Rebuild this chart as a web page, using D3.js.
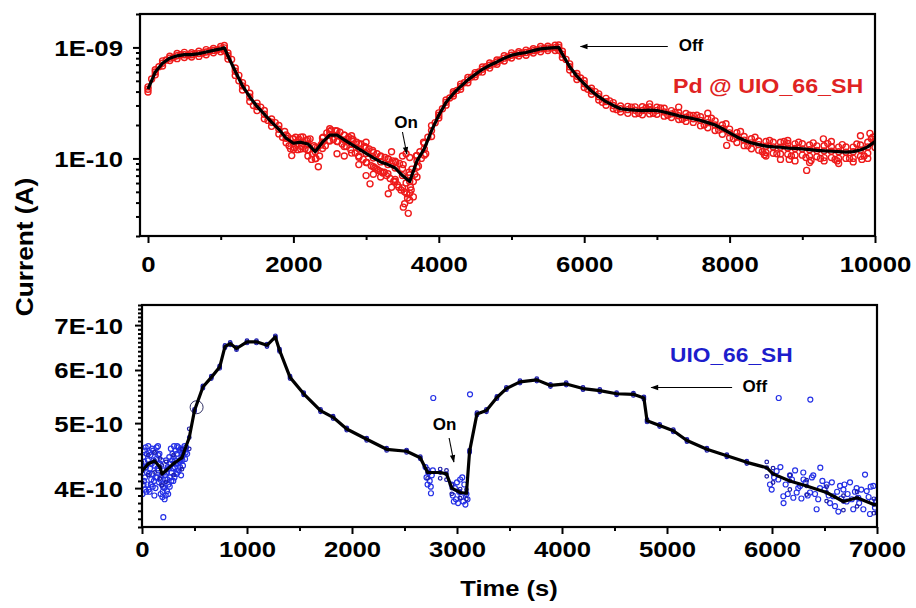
<!DOCTYPE html>
<html>
<head>
<meta charset="utf-8">
<script src="https://cdn.jsdelivr.net/npm/d3@7"></script>
<style>
  body { margin: 0; background: #fff; }
  svg text { font-family: "Liberation Sans", Arial, sans-serif; font-weight: bold; fill: #000; }
</style>
</head>
<body>
<svg id="chart" width="916" height="608"></svg>
<script>
// Currents are stored in units of 1e-10 A
const UNIT = 1e-10;

// ---------- Pd @ UIO_66_SH (upper panel) ----------
const topTime = [0,100,200,300,400,500,600,700,800,900,1000,1050,1100,
  1200,1300,1400,1500,1600,1700,1800,1900,2000,2100,2200,2300,2400,2500,2600,2700,
  2800,2900,3000,3100,3200,3300,3400,3500,3600,3700,3800,3900,4000,4100,4200,4300,
  4400,4500,4600,4700,4800,4900,5000,5100,5200,5300,5400,5500,5600,5650,5700,5800,
  5900,6000,6100,6200,6300,6400,6500,6600,6700,6800,6900,7000,7100,7200,7300,7400,
  7500,7600,7700,7800,7900,8000,8100,8200,8300,8400,8500,8600,8700,8800,8900,9000,
  9100,9200,9300,9400,9500,9600,9700,9800,9900,10000];
const topCurrent = [4.2,6.0,7.2,8.0,8.4,8.6,8.6,8.8,9.1,9.4,9.7,9.9,8.4,
  6.1,4.5,3.58,2.94,2.5,2.12,1.83,1.52,1.37,1.40,1.35,1.15,1.40,1.62,1.62,1.47,
  1.34,1.22,1.11,1.01,0.93,0.88,0.82,0.70,0.62,0.95,1.22,1.78,2.45,3.2,3.83,4.45,
  5.1,5.7,6.35,6.9,7.4,8.0,8.5,8.8,9.0,9.35,9.7,9.85,9.95,10.0,8.7,6.7,
  5.5,4.7,4.05,3.6,3.25,3.0,2.8,2.75,2.72,2.7,2.72,2.7,2.62,2.52,2.42,2.35,
  2.28,2.2,2.1,2.0,1.85,1.7,1.56,1.46,1.38,1.33,1.29,1.27,1.26,1.24,1.23,1.22,
  1.2,1.18,1.17,1.16,1.15,1.14,1.15,1.19,1.27,1.42];
// spread of the raw readings above / below the smoothed trace (ratio)
const topSpreadUp = [1.05,1.05,1.05,1.04,1.05,1.05,1.04,1.05,1.05,1.04,1.05,1.05,1.06,
  1.07,1.07,1.08,1.07,1.08,1.07,1.08,1.07,1.10,1.11,1.10,1.10,1.09,1.08,1.09,1.10,
  1.12,1.11,1.13,1.12,1.12,1.13,1.15,1.16,1.15,1.12,1.12,1.11,1.05,1.05,1.04,1.05,
  1.05,1.04,1.05,1.05,1.04,1.05,1.05,1.04,1.05,1.04,1.05,1.04,1.05,1.05,1.06,1.06,
  1.06,1.07,1.06,1.06,1.07,1.06,1.06,1.07,1.07,1.08,1.07,1.07,1.08,1.07,1.07,1.08,
  1.07,1.08,1.08,1.09,1.08,1.08,1.09,1.08,1.09,1.08,1.10,1.10,1.11,1.10,1.10,1.11,
  1.10,1.10,1.11,1.10,1.10,1.11,1.10,1.11,1.10,1.10];
const topSpreadDown = [1.06,1.06,1.06,1.05,1.06,1.06,1.05,1.06,1.06,1.05,1.06,1.06,1.07,
  1.09,1.09,1.10,1.09,1.10,1.09,1.10,1.10,1.14,1.15,1.14,1.16,1.14,1.13,1.14,1.15,
  1.20,1.19,1.21,1.20,1.22,1.21,1.27,1.29,1.28,1.14,1.14,1.13,1.06,1.06,1.05,1.06,
  1.06,1.05,1.06,1.06,1.05,1.06,1.06,1.05,1.06,1.05,1.06,1.05,1.06,1.06,1.07,1.07,
  1.07,1.08,1.07,1.07,1.08,1.07,1.07,1.08,1.08,1.09,1.08,1.08,1.09,1.08,1.08,1.09,
  1.08,1.12,1.11,1.12,1.12,1.11,1.12,1.12,1.13,1.12,1.14,1.14,1.15,1.14,1.15,1.14,
  1.15,1.14,1.15,1.14,1.15,1.14,1.15,1.14,1.14,1.13];
// individual readings between and around the band: [time s, current ×1e-10 A]
const topScatter = [
  [50,5.2],[150,6.7],[250,7.7],[350,8.1],[450,8.6],[550,8.5],[650,8.8],[750,8.9],[850,9.3],[950,9.5],
  [1150,7.8],[1250,5.0],[1250,5.6],[1350,4.3],[1450,3.0],[1550,2.9],[1650,2.2],[1750,2.1],[1850,1.55],[1880,1.75],
  [1920,1.58],[1940,1.30],[1960,1.22],[1977,1.06],[1990,1.50],[2010,1.25],[2030,1.55],[2060,1.20],[2080,1.48],
  [2110,1.28],[2130,1.56],[2160,1.22],[2180,1.45],[2200,1.05],[2210,1.20],[2230,1.50],[2250,0.98],[2260,1.10],
  [2280,1.30],[2310,1.00],[2330,1.25],[2343,0.84],[2360,1.05],[2380,1.32],[2410,1.55],[2440,1.30],[2460,1.70],
  [2490,1.45],[2500,1.85],[2520,1.80],[2550,1.48],[2580,1.78],[2600,1.10],[2610,1.42],[2640,1.72],[2670,1.35],
  [2700,1.62],[2700,1.05],[2730,1.28],[2760,1.55],[2790,1.20],[2800,1.60],[2820,1.48],[2850,1.12],[2870,1.40],
  [2900,1.05],[2900,0.88],[2930,1.35],[2960,0.98],[2980,1.28],[3000,0.70],[3000,1.40],[3010,0.92],[3040,1.22],
  [3054,0.59],[3070,0.86],[3090,1.18],[3100,0.72],[3120,0.82],[3150,1.10],[3150,0.80],[3170,0.78],[3200,1.05],
  [3200,0.68],[3230,0.74],[3250,0.75],[3260,1.02],[3280,0.70],[3305,0.48],[3310,0.98],[3330,0.66],[3350,0.55],
  [3350,1.15],[3360,0.95],[3380,0.62],[3400,0.62],[3410,0.92],[3430,0.58],[3450,0.55],[3460,0.90],[3480,0.52],
  [3500,1.05],[3510,0.88],[3512,0.364],[3530,0.50],[3530,0.39],[3550,0.60],[3550,1.10],[3560,0.48],[3570,0.44],
  [3580,0.32],[3590,0.75],[3600,0.42],[3600,1.02],[3610,0.55],[3620,0.52],[3630,0.80],[3650,0.62],[3650,0.45],
  [3670,0.72],[3690,1.05],[3700,0.68],[3720,0.85],[3740,1.15],[3760,1.00],[3790,1.40],[3820,1.10],[3850,1.55],
  [3950,2.1],[4050,2.8],[4150,3.5],[4250,4.1],[4350,4.8],[4450,5.4],[4550,6.0],[4650,6.7],[4750,7.1],[4850,7.7],
  [4950,8.2],[5050,8.6],[5150,8.9],[5250,9.2],[5350,9.5],[5450,9.8],[5550,9.9],
  [5750,7.8],[5850,5.8],[5950,5.3],[6050,4.2],[6150,4.0],[6250,3.2],[6350,3.3],[6450,2.75],
  [6650,2.9],[6750,2.55],[6850,2.85],[6900,3.10],[6950,2.55],[7050,2.85],[7150,2.45],[7250,2.6],[7300,2.9],
  [7350,2.25],[7450,2.45],[7550,2.45],[7650,2.0],[7700,2.55],[7750,2.3],[7850,1.8],[7950,2.05],[7960,1.31],
  [8050,1.5],[8150,1.75],[8250,1.3],[8350,1.55],[8450,1.15],[8480,1.08],[8500,1.05],[8550,1.45],[8650,1.1],
  [8700,0.98],[8750,1.42],[8800,1.45],[8820,0.98],[8850,1.05],[8900,0.95],[8950,1.40],[9050,1.02],[9060,0.78],
  [9100,0.92],[9120,0.96],[9150,1.38],[9250,1.0],[9290,1.50],[9300,0.95],[9350,1.36],[9400,1.42],[9450,0.98],
  [9480,0.95],[9500,0.90],[9550,1.33],[9650,1.0],[9700,0.93],[9750,1.35],[9800,1.60],[9820,0.98],[9850,1.05],
  [9900,1.00],[9930,1.68],[9950,1.5],[9970,1.55]
];
const topXTicks = [0,2000,4000,6000,8000,10000];
const topXMinor = [1000,3000,5000,7000,9000];
const topYTicks = [1e-10,1e-9];
const topYTickLabels = ["1E-10","1E-09"];

// ---------- UIO_66_SH (lower panel) ----------
const botTime = [0,60,120,170,190,230,300,380,450,500,580,660,740,790,840,900,1000,1090,1190,1270,
  1310,1410,1540,1700,1820,1950,2140,2330,2520,2650,2720,2840,2900,2950,3030,3090,3120,3190,3280,3380,
  3470,3600,3760,3890,4040,4200,4360,4520,4680,4780,4810,4930,5060,5190,5380,5570,5760,5950,6010,6170,
  6330,6520,6680,6810,6970,7000];
const botCurrent = [4.24,4.35,4.39,4.30,4.20,4.25,4.35,4.44,4.76,5.22,5.66,5.85,6.06,6.50,6.57,6.46,6.61,6.61,6.53,6.72,
  6.42,5.85,5.53,5.22,5.10,4.90,4.73,4.57,4.54,4.44,4.22,4.22,4.20,4.00,3.94,3.93,4.54,5.16,5.22,5.46,
  5.63,5.76,5.80,5.69,5.72,5.63,5.59,5.53,5.52,5.45,5.04,4.96,4.87,4.71,4.57,4.47,4.37,4.29,4.20,4.10,
  4.03,3.94,3.82,3.87,3.78,3.78];
const botSpreadUp = [1.03,1.03,1.03,1.03,1.03,1.03,1.03,1.03,1.03,
  1.004,1.004,1.004,1.004,1.004,1.004,1.004,1.004,1.004,1.004,1.004,1.004,1.004,1.004,1.004,1.004,1.004,1.004,1.004,1.004,1.004,
  1.012,1.012,1.012,1.012,1.012,1.012,
  1.004,1.004,1.004,1.004,1.004,1.004,1.004,1.004,1.004,1.004,1.004,1.004,1.004,1.004,1.004,1.004,1.004,1.004,1.004,1.004,1.004,
  1.02,1.02,1.02,1.02,1.02,1.02,1.02,1.02,1.02];
const botSpreadDown = [1.04,1.04,1.04,1.04,1.04,1.04,1.04,1.04,1.04,
  1.004,1.004,1.004,1.004,1.004,1.004,1.004,1.004,1.004,1.004,1.004,1.004,1.004,1.004,1.004,1.004,1.004,1.004,1.004,1.004,1.004,
  1.02,1.02,1.02,1.02,1.02,1.02,
  1.004,1.004,1.004,1.004,1.004,1.004,1.004,1.004,1.004,1.004,1.004,1.004,1.004,1.004,1.004,1.004,1.004,1.004,1.004,1.004,1.004,
  1.03,1.03,1.03,1.03,1.03,1.03,1.03,1.03,1.03];
// noisy readings at the start, around the switch-on and at the tail: [time s, current ×1e-10 A]
const botScatter = [
  [5,3.92],[8,4.30],[12,4.45],[15,4.05],[18,4.10],[22,4.38],[25,4.55],[28,4.15],[30,3.98],[35,4.60],[38,4.30],
  [42,3.95],[45,4.50],[48,4.22],[52,4.05],[56,4.40],[60,4.62],[63,3.98],[66,4.20],[70,4.52],[72,3.95],[76,4.28],
  [80,4.48],[84,4.05],[88,4.12],[92,4.35],[95,4.58],[98,4.20],[102,4.02],[106,4.55],[110,4.40],[114,4.10],
  [118,3.90],[121,4.32],[125,4.52],[128,4.00],[132,4.15],[136,4.42],[140,4.60],[144,4.15],[148,4.28],[152,4.62],
  [155,4.48],[158,4.25],[162,4.08],[166,4.50],[170,4.35],[174,4.12],[178,3.92],[182,4.40],[186,4.18],[190,4.05],
  [194,3.88],[197,3.95],[200,4.02],[203,3.62],[208,4.25],[212,4.00],[215,3.85],[218,4.18],[222,4.12],[226,3.90],
  [230,4.40],[234,4.22],[238,3.96],[242,4.12],[245,4.30],[249,3.92],[252,4.05],[256,4.28],[260,4.45],[264,4.02],
  [268,4.15],[272,4.35],[275,4.58],[279,4.10],[282,4.22],[286,4.40],[290,4.50],[294,4.28],[298,4.10],[302,4.45],
  [305,4.62],[309,4.15],[312,4.30],[316,4.40],[320,4.55],[324,4.35],[328,4.20],[332,4.50],[335,4.62],[338,4.22],
  [342,4.35],[346,4.60],[350,4.25],[354,4.38],[358,4.55],[362,4.30],[365,4.40],[369,4.58],[372,4.18],[376,4.45],
  [380,4.50],[385,4.40],[390,4.32],[395,4.48],[400,4.55],[405,4.62],[410,4.42],[415,4.52],[420,4.60],[430,4.50],
  [2700,4.30],[2710,4.15],[2720,4.05],[2730,4.22],[2740,4.10],[2750,4.02],[2752,3.93],[2760,4.18],[2770,4.25],
  [2774,5.45],[2950,4.05],[2960,3.90],[2970,3.82],[2980,4.00],[2990,3.85],[3000,4.08],[3010,3.80],[3020,3.95],
  [3030,4.12],[3040,3.88],[3050,4.15],[3060,3.82],[3070,4.05],[3080,3.78],[3090,3.92],[3100,3.85],[3124,5.52],
  [5981,4.05],[5997,3.98],[6020,4.15],[6044,4.24],[6060,4.12],[6064,5.45],[6080,4.30],[6108,3.89],[6110,3.80],
  [6130,4.05],[6150,3.92],[6171,4.18],[6190,4.12],[6203,3.87],[6220,4.25],[6235,3.94],[6250,4.00],[6267,4.03],
  [6280,3.86],[6298,4.22],[6300,4.12],[6320,4.08],[6340,3.90],[6362,3.94],[6365,5.42],[6380,4.15],[6393,4.18],
  [6410,3.92],[6425,3.72],[6440,3.85],[6457,4.00],[6460,4.29],[6480,4.10],[6500,3.98],[6521,4.05],[6540,3.90],
  [6552,3.80],[6570,4.08],[6584,3.89],[6600,3.76],[6620,3.95],[6632,3.69],[6648,4.03],[6660,3.86],[6680,3.98],
  [6690,4.05],[6711,3.82],[6720,3.92],[6743,4.08],[6760,3.85],[6774,3.72],[6790,3.95],[6806,4.00],[6822,3.87],
  [6830,3.80],[6850,3.98],[6870,3.72],[6886,4.19],[6902,3.96],[6920,3.88],[6933,3.66],[6940,4.02],[6950,3.82],
  [6965,4.03],[6981,3.74],[6990,3.82]
];
const botRing = [[520,5.28]];
const botXTicks = [0,1000,2000,3000,4000,5000,6000,7000];
const botXMinor = [500,1500,2500,3500,4500,5500,6500];
const botYTicks = [4e-10,5e-10,6e-10,7e-10];
const botYTickLabels = ["4E-10","5E-10","6E-10","7E-10"];

const RED = "#ee1a1a", RED_LABEL = "#e02323";
const BLUE = "#1c1ca8", BLUE_NOISE = "#2430e6", BLUE_LABEL = "#1d1dcc";

const svg = d3.select("#chart");

// arrowhead
const defs = svg.append("defs");
defs.append("marker")
  .attr("id", "arrow").attr("viewBox", "0 0 10 10")
  .attr("refX", 9).attr("refY", 5)
  .attr("markerWidth", 9).attr("markerHeight", 7).attr("orient", "auto")
  .append("path").attr("d", "M0,1.5 L10,5 L0,8.5 Z").attr("fill", "#000");

function stretch(sel, k) {
  sel.each(function () {
    const w = this.getComputedTextLength();
    d3.select(this).attr("textLength", w * k).attr("lengthAdjust", "spacingAndGlyphs");
  });
}

function zip(ts, vs) { return ts.map((t, i) => ({ t, v: vs[i] * UNIT })); }
function pairs(arr) { return arr.map(([t, v]) => ({ t, v: v * UNIT })); }

function panel(cfg) {
  const { x, y } = cfg;
  const g = svg.append("g");
  const [x0, x1] = x.range(), [y1, y0] = y.range();

  const line = zip(cfg.time, cfg.current);
  const band = [];
  line.forEach((d, i) => {
    band.push({ t: d.t, v: d.v * cfg.up[i] });
    band.push({ t: d.t, v: d.v / cfg.down[i] });
    band.push(d);
  });

  const clip = "clip" + cfg.id;
  defs.append("clipPath").attr("id", clip)
    .append("rect").attr("x", x0).attr("y", y0).attr("width", x1 - x0).attr("height", y1 - y0);
  const plot = g.append("g").attr("clip-path", `url(#${clip})`);

  plot.append("g").selectAll("circle").data(pairs(cfg.scatter)).join("circle")
    .attr("cx", d => x(d.t)).attr("cy", d => y(d.v)).attr("r", cfg.r)
    .attr("fill", "none").attr("stroke", cfg.scatterColor).attr("stroke-width", cfg.sw);
  plot.append("g").selectAll("circle").data(band).join("circle")
    .attr("cx", d => x(d.t)).attr("cy", d => y(d.v)).attr("r", cfg.bandR)
    .attr("fill", "none").attr("stroke", cfg.color).attr("stroke-width", cfg.sw);
  if (cfg.ring) {
    plot.append("g").selectAll("circle").data(pairs(cfg.ring)).join("circle")
      .attr("cx", d => x(d.t)).attr("cy", d => y(d.v)).attr("r", 6.5)
      .attr("fill", "none").attr("stroke", "#333366").attr("stroke-width", 1);
  }
  plot.append("path").datum(line)
    .attr("d", d3.line().x(d => x(d.t)).y(d => y(d.v)))
    .attr("fill", "none").attr("stroke", "#000").attr("stroke-width", cfg.lineW)
    .attr("stroke-linejoin", "round");

  // axes
  const xa = g.append("g").attr("transform", `translate(0,${y1})`)
    .call(d3.axisBottom(x).tickValues(cfg.xTicks).tickSize(7).tickSizeOuter(0).tickFormat(d3.format("d")));
  g.append("g").attr("transform", `translate(0,${y1})`)
    .call(d3.axisBottom(x).tickValues(cfg.xMinor).tickSize(4).tickSizeOuter(0).tickFormat(""));
  const ya = g.append("g").attr("transform", `translate(${x0},0)`)
    .call(d3.axisLeft(y).tickValues(cfg.yTicks).tickSize(7).tickSizeOuter(0)
      .tickFormat((d, i) => cfg.yLabels[i]));
  g.append("g").attr("transform", `translate(${x0},0)`)
    .call(d3.axisLeft(y).tickValues(cfg.yMinor).tickSize(4).tickSizeOuter(0).tickFormat(""));
  g.selectAll(".domain").remove();
  g.selectAll(".tick line").attr("stroke", "#000").attr("stroke-width", 2);

  xa.selectAll("text").attr("y", cfg.xLabelY).attr("dy", null)
    .style("font-size", cfg.xFont + "px").call(stretch, 1.17);
  ya.selectAll("text").attr("x", cfg.yLabelX).attr("dy", "0.36em")
    .style("font-size", "22px").call(stretch, 1.17);

  g.append("rect").attr("x", x0).attr("y", y0).attr("width", x1 - x0).attr("height", y1 - y0)
    .attr("fill", "none").attr("stroke", "#000").attr("stroke-width", 2.2);
  return g;
}

// upper panel
const xTop = d3.scaleLinear().domain([-110, 10000]).range([140, 875]);
const yTop = d3.scaleLog().domain([2e-11, 2e-9]).range([236, 14]);
panel({
  id: "top", x: xTop, y: yTop, time: topTime, current: topCurrent,
  up: topSpreadUp, down: topSpreadDown, scatter: topScatter,
  color: RED, scatterColor: RED, r: 3, bandR: 3, sw: 1.4, lineW: 3.2,
  xTicks: topXTicks, xMinor: topXMinor, yTicks: topYTicks, yLabels: topYTickLabels,
  yMinor: yTop.ticks().filter(v => !topYTicks.some(t => Math.abs(t - v) < v * 1e-6)),
  xLabelY: 36, xFont: 22, yLabelX: -17
});

// lower panel
const xBot = d3.scaleLinear().domain([0, 7000]).range([142, 877]);
const yBot = d3.scaleLog().domain([3.5e-10, 7.5e-10]).range([527, 305]);
panel({
  id: "bot", x: xBot, y: yBot, time: botTime, current: botCurrent,
  up: botSpreadUp, down: botSpreadDown, scatter: botScatter, ring: botRing,
  color: BLUE, scatterColor: BLUE_NOISE, r: 2.5, bandR: 1.8, sw: 1.2, lineW: 3.2,
  xTicks: botXTicks, xMinor: botXMinor, yTicks: botYTicks, yLabels: botYTickLabels,
  yMinor: d3.range(35, 76).map(k => k * 1e-11).filter(v => !botYTicks.some(t => Math.abs(t - v) < 1e-13)),
  xLabelY: 30, xFont: 22, yLabelX: -19
});

// annotations
function annotate(txt, tx, ty, size, a, b) {
  svg.append("text").attr("x", tx).attr("y", ty).style("font-size", size + "px").text(txt);
  svg.append("line").attr("x1", a[0]).attr("y1", a[1]).attr("x2", b[0]).attr("y2", b[1])
    .attr("stroke", "#000").attr("stroke-width", 1.1).attr("marker-end", "url(#arrow)");
}
annotate("On", xTop(3400) - 1, 128, 17, [xTop(3500), 132], [xTop(3560), 154]);
annotate("Off", xTop(7300), 51, 17, [xTop(7150), 46.5], [xTop(5950), 46.5]);
annotate("On", xBot(2770), 430, 17, [xBot(2925), 438], [xBot(2970), 462]);
annotate("Off", xBot(5720), 392, 17, [xBot(5620), 387.5], [xBot(4850), 387.5]);

svg.append("text").attr("x", 673).attr("y", 93).style("font-size", "20px")
  .style("fill", RED_LABEL).text("Pd @ UIO_66_SH").call(stretch, 1.16);
svg.append("text").attr("x", 670).attr("y", 362).style("font-size", "20.5px")
  .style("fill", BLUE_LABEL).text("UIO_66_SH").call(stretch, 1.11);

// axis titles
svg.append("text").attr("transform", "translate(33,247) rotate(-90)")
  .attr("text-anchor", "middle").style("font-size", "23px").text("Current (A)").call(stretch, 1.14);
svg.append("text").attr("x", 509).attr("y", 596).attr("text-anchor", "middle")
  .style("font-size", "22px").text("Time (s)").call(stretch, 1.16);
</script>
</body>
</html>
